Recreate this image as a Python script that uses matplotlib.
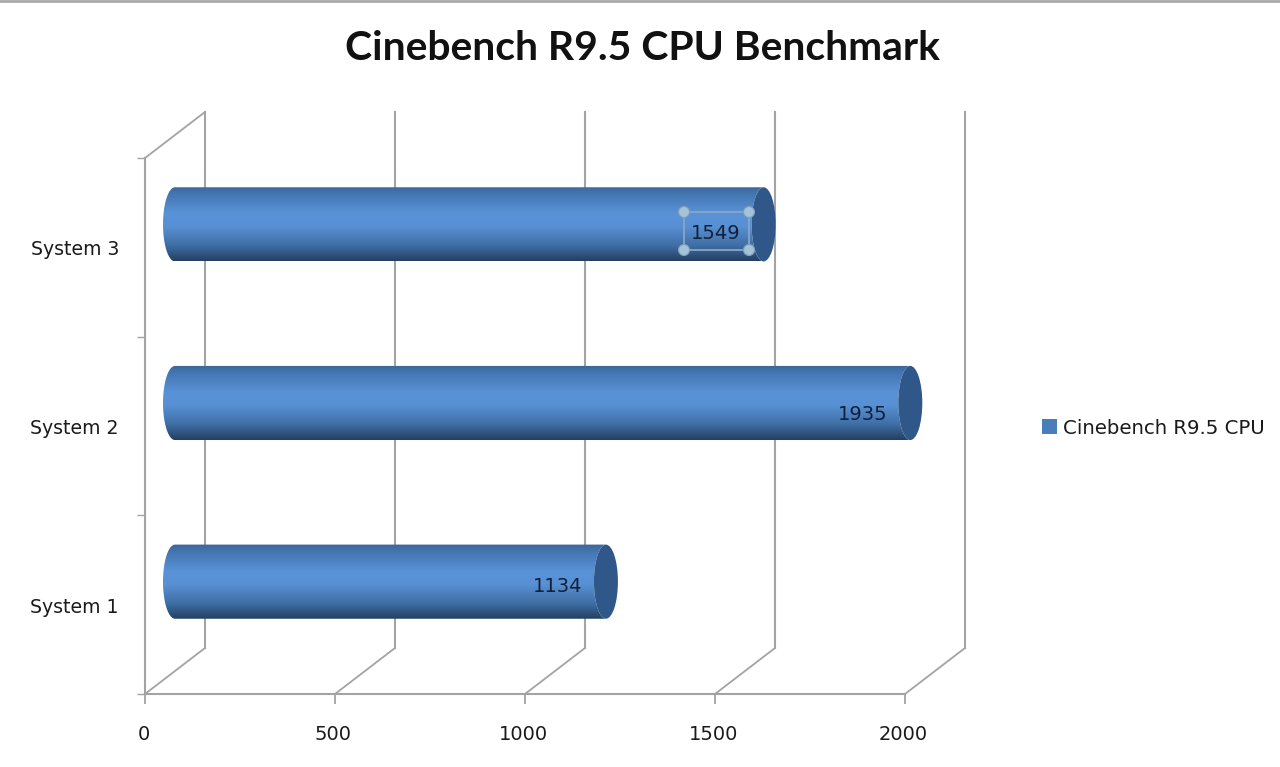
import numpy as np
import matplotlib
matplotlib.use("Agg")
import matplotlib.pyplot as plt
from matplotlib.colors import LinearSegmentedColormap
from matplotlib.lines import Line2D
from matplotlib.patches import Ellipse, Patch, PathPatch
from matplotlib.path import Path
from matplotlib.transforms import Affine2D

# Benchmark results
systems = ["System 1", "System 2", "System 3"]
scores = [1134, 1935, 1549]
x_ticks = [0, 500, 1000, 1500, 2000]
title = "Cinebench R9.5 CPU Benchmark"
series_name = "Cinebench R9.5 CPU"

W, H = 1280, 767
DPI = 100
# Front plane of the 3-D box, in pixels from the top-left corner
LEFT, RIGHT, TOP, BOTTOM = 145, 905, 158, 694
DEPTH_X, DEPTH_Y = 60, 46   # offset of the back wall
GRID = "#a3a3a3"
TEXT = "#1a1a1a"
LABEL_FONT = "DejaVu Sans"

fig = plt.figure(figsize=(W / DPI, H / DPI), dpi=DPI, facecolor="white")
ax = fig.add_axes([LEFT / W, 1 - BOTTOM / H, (RIGHT - LEFT) / W, (BOTTOM - TOP) / H])
ax.patch.set_visible(False)
for side in ("top", "right"):
    ax.spines[side].set_visible(False)
for side in ("left", "bottom"):
    ax.spines[side].set_color(GRID)
    ax.spines[side].set_linewidth(1.5)

back = ax.transData + Affine2D().translate(DEPTH_X, DEPTH_Y)
mid = ax.transData + Affine2D().translate(DEPTH_X / 2, DEPTH_Y / 2)
ax.set_xlim(0, 2000)
ax.set_ylim(0, len(systems))

# Back wall uprights and floor diagonals
for t in x_ticks:
    ax.add_line(Line2D([t, t], [0, len(systems)], color=GRID, lw=1.5,
                       transform=back, clip_on=False, zorder=1))
    x0, y0 = ax.transData.transform((t, 0))
    ax.add_line(Line2D([x0, x0 + DEPTH_X], [y0, y0 + DEPTH_Y], color=GRID, lw=1.3,
                       transform=None, clip_on=False, zorder=1))
x0, y0 = ax.transData.transform((0, len(systems)))
ax.add_line(Line2D([x0, x0 + DEPTH_X], [y0, y0 + DEPTH_Y], color=GRID, lw=1.3,
                   transform=None, clip_on=False, zorder=1))

# Cylinder shading, dark at both rims with the highlight above the middle
shade = LinearSegmentedColormap.from_list(
    "cylinder",
    [(0.0, "#3c6596"), (0.1, "#4376b1"), (0.36, "#5a92d8"), (0.54, "#5890d4"),
     (0.8, "#3e6da3"), (1.0, "#233f60")])
gradient = np.linspace(0, 1, 256).reshape(-1, 1)

bar_h = 0.415
rx = 12 * 2000 / (RIGHT - LEFT)  # cap radius in score units
theta = np.linspace(np.pi / 2, 3 * np.pi / 2, 40)
label_dy = [5, 12, 9]

for i, value in enumerate(scores):
    yc = i + 0.5
    ry = bar_h / 2
    xs = np.r_[rx * np.cos(theta), value + rx * np.cos(theta[::-1])]
    ys = np.r_[yc + ry * np.sin(theta), yc + ry * np.sin(theta[::-1])]
    outline = PathPatch(Path(np.c_[xs, ys]), transform=mid, fc="none", ec="none", zorder=2)
    ax.add_patch(outline)
    im = ax.imshow(gradient, cmap=shade, aspect="auto", zorder=2, interpolation="bilinear",
                   extent=(-rx, value + rx, yc - ry, yc + ry), transform=mid)
    im.set_clip_box(fig.bbox)
    im.set_clip_path(outline)
    ax.add_patch(Ellipse((value, yc), 2 * rx, bar_h, transform=mid,
                         fc="#30578a", ec="none", zorder=3, clip_on=False))
    ax.annotate(str(value), (value, yc), xycoords=mid,
                xytext=(-48 * 0.72, -label_dy[i] * 0.72),
                textcoords="offset points", ha="center", va="center",
                fontsize=14, family=LABEL_FONT, color="#10203a", zorder=6)

ax.set_xlim(0, 2000)
ax.set_ylim(0, len(systems))


def fig_xy(x, y):
    return x / W, 1 - y / H


# Selection frame around the highlighted data label
box = [(684, 212), (749, 212), (749, 250), (684, 250)]
fig.add_artist(Line2D(*zip(*[fig_xy(*p) for p in box + box[:1]]),
                      transform=fig.transFigure, color="#8aa6c4", lw=1.3, zorder=7))
for p in box:
    fig.add_artist(Ellipse(fig_xy(*p), 11 / W, 11 / H, transform=fig.transFigure,
                           fc="#a5c3d8", ec="#7f9fba", lw=0.8, zorder=8))

# Axis ticks and labels
ax.set_xticks(x_ticks)
ax.set_xticklabels([])
ax.tick_params(axis="x", length=7.5, width=1.3, color=GRID)
for t in x_ticks:
    ax.annotate(str(t), (t, 0), xycoords="data", xytext=(-1.5 * 0.72, -41 * 0.72),
                textcoords="offset points", ha="center", va="center",
                fontsize=14, family=LABEL_FONT, color=TEXT)
ax.set_yticks(range(len(systems) + 1))
ax.set_yticklabels([""] * (len(systems) + 1))
ax.tick_params(axis="y", length=6, width=1.0, color=GRID)
for i, name in enumerate(systems):
    ax.annotate(name, (0, i + 0.5), xycoords="data", xytext=(-26 * 0.72, -2.5 * 0.72),
                textcoords="offset points", ha="right", va="center",
                fontsize=13.6, family=LABEL_FONT, color=TEXT)

fig.text(642 / W, 1 - 48 / H, title, ha="center", va="center",
         fontsize=29.4, fontweight="bold", family="Lato", color="#111111")

# Legend to the right of the plot
fig.legend(handles=[Patch(facecolor="#4a7ebb", edgecolor="none", label=series_name)],
           loc="center left", bbox_to_anchor=(1024 / W, 1 - 428 / H), frameon=False,
           prop={"family": LABEL_FONT, "size": 14.2}, labelcolor=TEXT,
           handlelength=0.75, handleheight=0.75, handletextpad=0.35)

# Thin rule along the top edge
fig.add_artist(Line2D([0, 1], [1 - 1 / H, 1 - 1 / H], transform=fig.transFigure,
                      color="#a8a8a8", lw=2))

fig.savefig("out.png", dpi=DPI, facecolor="white")
